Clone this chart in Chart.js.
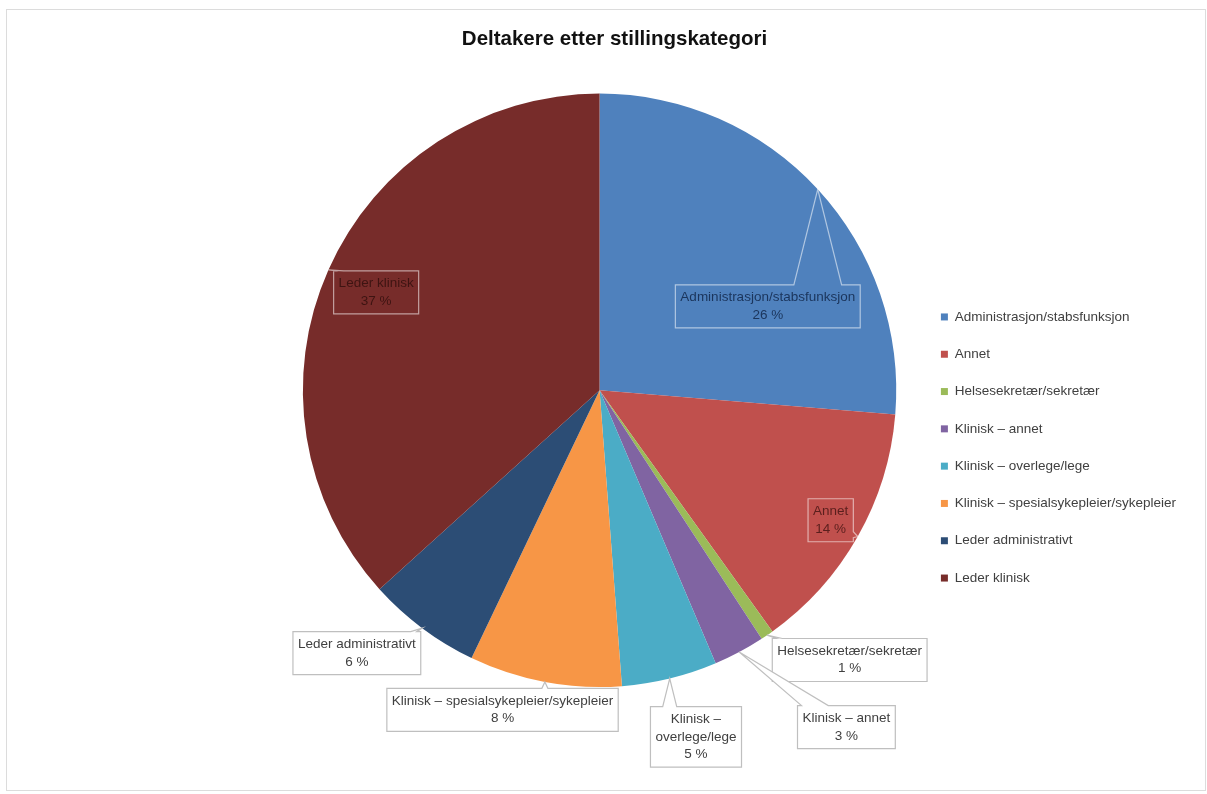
<!DOCTYPE html>
<html>
<head>
<meta charset="utf-8">
<script src="https://cdn.jsdelivr.net/npm/chart.js@4.4.0/dist/chart.umd.min.js"></script>
<style>
body { margin: 0; background: #fff; }
#wrap { position: relative; width: 1207px; height: 794px; }
#frame { position: absolute; left: 6px; top: 9px; width: 1198px; height: 780px; border: 1px solid #dcdcdc; pointer-events: none; }
</style>
</head>
<body>
<div id="wrap">
  <canvas id="pieChart" width="1207" height="794"></canvas>
  <div id="frame"></div>
</div>
<script>
const chartTitle = 'Deltakere etter stillingskategori';
const categories = [
    'Administrasjon/stabsfunksjon',
    'Annet',
    'Helsesekretær/sekretær',
    'Klinisk – annet',
    'Klinisk – overlege/lege',
    'Klinisk – spesialsykepleier/sykepleier',
    'Leder administrativt',
    'Leder klinisk'
];
const shares = [26.3, 13.8, 0.7, 2.8, 5.2, 8.3, 6.2, 36.7];

const sliceColors = ['#4f81bd', '#c0504d', '#9bbb59', '#8064a2', '#4bacc6', '#f79646', '#2c4d75', '#772c2a'];
const insideInk = ['#1b355c', '#5a1f1d', '#333', '#333', '#333', '#333', '#333', '#3e1412'];

// where each callout box sits, relative to the pie centre, in units of the radius
const calloutPos = [
    [0.567, -0.283], [0.779, 0.438], [0.843, 0.909], [0.832, 1.135],
    [0.325, 1.168], [-0.327, 1.077], [-0.818, 0.886], [-0.753, -0.330]
];
const calloutWrap = [0, 0, 0, 0, 88, 0, 0, 0];

const FONT = '"Liberation Sans", Arial, sans-serif';

function wrapText(ctx, text, maxW) {
    if (!maxW) return [text];
    const lines = [];
    let cur = '';
    text.split(' ').forEach(w => {
        const t = cur ? cur + ' ' + w : w;
        if (cur && ctx.measureText(t).width > maxW) {
            lines.push(cur);
            cur = w;
        } else {
            cur = t;
        }
    });
    lines.push(cur);
    return lines;
}

// box outline with a wedge pointing at the slice
function outline(b, tip) {
    const TL = {x: b.l, y: b.t}, TR = {x: b.r, y: b.t}, BR = {x: b.r, y: b.b}, BL = {x: b.l, y: b.b};
    const clamp = (v, lo, hi) => Math.max(lo, Math.min(hi, v));
    const m = 4;
    if (tip.y < b.t || tip.y > b.b) {
        const top = tip.y < b.t;
        const d = Math.abs(tip.y - (top ? b.t : b.b));
        const hw = clamp(d * 0.25, 3, 24);
        const c = clamp(tip.x, b.l + m + hw, b.r - m - hw);
        if (top) return [TL, {x: c - hw, y: b.t}, tip, {x: c + hw, y: b.t}, TR, BR, BL];
        return [TL, TR, BR, {x: c + hw, y: b.b}, tip, {x: c - hw, y: b.b}, BL];
    }
    const right = tip.x > b.r;
    const d = Math.abs(tip.x - (right ? b.r : b.l));
    const hw = clamp(d * 0.25, 3, (b.b - b.t) / 2 - m);
    const c = clamp(tip.y, b.t + m + hw, b.b - m - hw);
    if (right) return [TL, TR, {x: b.r, y: c - hw}, tip, {x: b.r, y: c + hw}, BR, BL];
    return [TL, TR, BR, BL, {x: b.l, y: c + hw}, tip, {x: b.l, y: c - hw}];
}

const calloutPlugin = {
    id: 'callouts',
    afterDatasetsDraw(chart) {
        const ctx = chart.ctx;
        const meta = chart.getDatasetMeta(0);
        const data = chart.data.datasets[0].data;
        const total = data.reduce((a, b) => a + b, 0);
        const lh = 17.5, padX = 5, padY = 4;
        ctx.save();
        ctx.font = '13.5px ' + FONT;
        ctx.textAlign = 'center';
        ctx.textBaseline = 'middle';
        meta.data.forEach((arc, i) => {
            const p = arc.getProps(['x', 'y', 'startAngle', 'endAngle', 'outerRadius'], true);
            const mid = (p.startAngle + p.endAngle) / 2;
            const tip = {x: p.x + Math.cos(mid) * p.outerRadius, y: p.y + Math.sin(mid) * p.outerRadius};
            const lines = wrapText(ctx, chart.data.labels[i], calloutWrap[i]);
            lines.push(Math.round(data[i] / total * 100) + ' %');
            const w = Math.max(...lines.map(l => ctx.measureText(l).width)) + 2 * padX;
            const h = lines.length * lh + 2 * padY;
            const cx = p.x + calloutPos[i][0] * p.outerRadius;
            const cy = p.y + calloutPos[i][1] * p.outerRadius;
            const box = {l: cx - w / 2, r: cx + w / 2, t: cy - h / 2, b: cy + h / 2};
            const inside = Math.hypot(cx - p.x, cy - p.y) < p.outerRadius;
            const pts = outline(box, tip);
            ctx.beginPath();
            pts.forEach((q, k) => k ? ctx.lineTo(q.x, q.y) : ctx.moveTo(q.x, q.y));
            ctx.closePath();
            if (!inside) {
                ctx.fillStyle = '#fff';
                ctx.fill();
            }
            ctx.lineWidth = 1.2;
            ctx.strokeStyle = inside ? 'rgba(255,255,255,0.55)' : '#bfbfbf';
            ctx.stroke();
            ctx.fillStyle = inside ? insideInk[i] : '#404040';
            lines.forEach((l, k) => ctx.fillText(l, cx, box.t + padY + lh * (k + 0.5)));
        });
        ctx.restore();
    }
};

new Chart(document.getElementById('pieChart').getContext('2d'), {
    type: 'pie',
    data: {
        labels: categories,
        datasets: [{
            data: shares,
            backgroundColor: sliceColors,
            borderWidth: 0
        }]
    },
    options: {
        responsive: false,
        animation: false,
        layout: {padding: {left: 43, right: 21, top: 0, bottom: 107}},
        plugins: {
            title: {
                display: true,
                text: chartTitle,
                color: '#111',
                font: {family: FONT, size: 20.5, weight: 'bold'},
                padding: {top: 27, bottom: 42}
            },
            // empty left box that keeps the pie clear of the left margin
            subtitle: {
                display: true,
                text: '',
                position: 'left',
                fullSize: false,
                font: {size: 12},
                padding: {top: 0, bottom: 224.6}
            },
            legend: {
                position: 'right',
                align: 'start',
                title: {display: true, text: ' ', padding: {top: 272, bottom: 0}, font: {size: 12}},
                labels: {
                    boxWidth: 7,
                    boxHeight: 7,
                    padding: 23.8,
                    color: '#404040',
                    font: {family: FONT, size: 13.5}
                }
            },
            tooltip: {enabled: false}
        }
    },
    plugins: [calloutPlugin]
});
</script>
</body>
</html>
